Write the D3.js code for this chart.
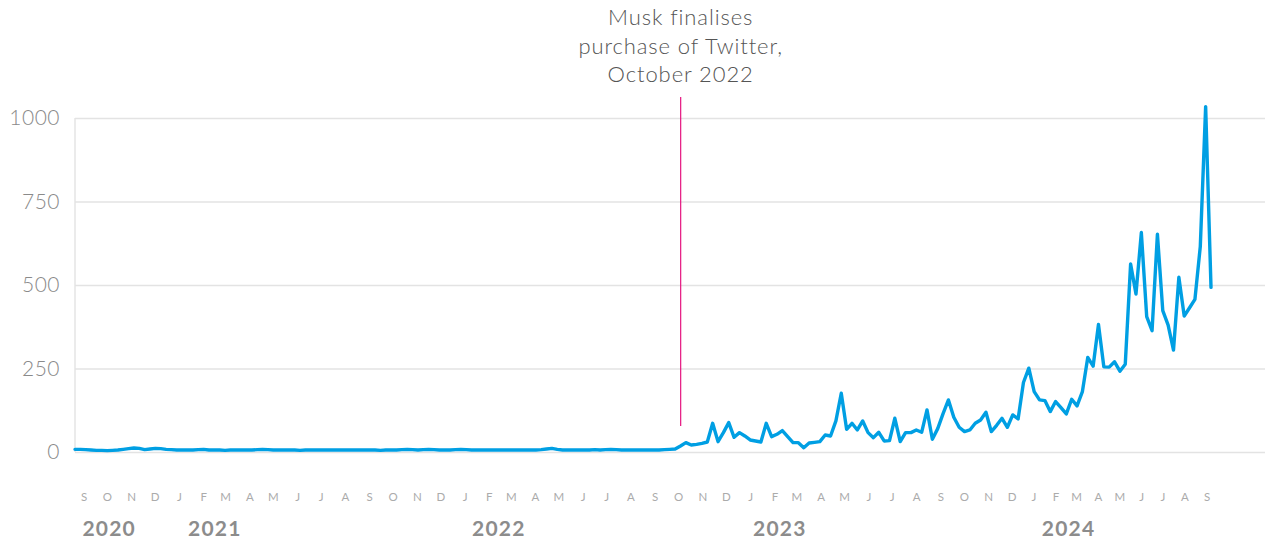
<!DOCTYPE html>
<html>
<head>
<meta charset="utf-8">
<script src="https://cdn.jsdelivr.net/npm/d3@7"></script>
<style>
  html, body { margin: 0; padding: 0; background: #fff; }
  #chart { width: 1272px; height: 546px; }
  text { font-family: Lato, "Open Sans", sans-serif; }
</style>
</head>
<body>
<div id="chart"></div>
<script>
// weekly counts, Sep 2020 -> Sep 2024
const weeklyValues = [
  8, 8, 7, 6, 5, 5, 4, 5, 6, 8,
  10, 12, 11, 7, 9, 11, 10, 8, 7, 6,
  6, 6, 6, 7, 8, 6, 6, 6, 5, 6,
  6, 6, 6, 6, 7, 8, 7, 6, 6, 6,
  6, 6, 5, 6, 6, 6, 6, 6, 6, 6,
  6, 6, 6, 6, 6, 6, 6, 5, 6, 6,
  6, 7, 8, 7, 6, 7, 8, 7, 6, 6,
  6, 7, 8, 7, 6, 6, 6, 6, 6, 6,
  6, 6, 6, 6, 6, 6, 6, 7, 9, 11,
  8, 6, 6, 6, 6, 6, 6, 7, 6, 7,
  8, 7, 6, 6, 6, 6, 6, 6, 6, 6,
  7, 8, 9, 18, 28, 21, 23, 26, 30, 86,
  31, 58, 88, 44, 58, 48, 36, 33, 30, 86,
  46, 53, 64, 46, 28, 28, 13, 27, 29, 31,
  51, 48, 93, 176, 68, 86, 66, 93, 58, 43,
  59, 33, 34, 101, 31, 58, 58, 66, 59, 126,
  38, 70, 115, 156, 104, 74, 61, 66, 86, 96,
  119, 61, 80, 101, 74, 111, 99, 208, 251, 181,
  156, 154, 121, 151, 133, 114, 158, 138, 181, 283,
  257, 382, 255, 254, 270, 242, 263, 563, 473, 657,
  405, 363, 652, 423, 380, 305, 523, 407, 432, 457,
  615, 1034, 493
];

const yTicks = [0, 250, 500, 750, 1000];

const monthLetters = ["J","F","M","A","M","J","J","A","S","O","N","D"];
const firstMonth = new Date(2020, 8, 15);
const lastMonth = new Date(2024, 8, 15);
const axisBreak = new Date(2023, 11, 15);

const yearLabels = ["2020", "2021", "2022", "2023", "2024"];
const yearLabelDates = ["2020-09-13", "2021-01-26", "2022-01-24", "2023-01-18", "2024-01-26"];

const annotationDate = new Date(2022, 9, 15);
const annotationLines = ["Musk finalises", "purchase of Twitter,", "October 2022"];

const width = 1272, height = 546;
const plot = { left: 75, right: 1265, top: 118, bottom: 452, dataEnd: 1211 };

const svg = d3.select("#chart").append("svg")
  .attr("width", width)
  .attr("height", height)
  .attr("viewBox", `0 0 ${width} ${height}`);

const xWeek = d3.scaleLinear()
  .domain([0, weeklyValues.length - 1])
  .range([plot.left, plot.dataEnd]);

const xMonth = d3.scaleTime()
  .domain([firstMonth, axisBreak, lastMonth])
  .range([84, 1012, 1207]);

const yScale = d3.scaleLinear()
  .domain([0, 1000])
  .range([plot.bottom, plot.top]);

// grid + y labels
const yAxis = d3.axisLeft(yScale)
  .tickValues(yTicks)
  .tickFormat(d3.format("d"))
  .tickSize(-(plot.right - plot.left))
  .tickPadding(15);

const yAxisG = svg.append("g")
  .attr("transform", `translate(${plot.left},0)`)
  .call(yAxis);

yAxisG.select(".domain").remove();
yAxisG.selectAll(".tick line")
  .attr("stroke", "#e3e3e3")
  .attr("stroke-width", 1.4);
yAxisG.selectAll(".tick text")
  .attr("fill", "#8a8a8a")
  .attr("font-size", 21)
  .attr("font-weight", 300)
  .attr("letter-spacing", 0.5);

svg.append("line")
  .attr("x1", plot.left).attr("x2", plot.left)
  .attr("y1", yScale(1000)).attr("y2", yScale(0))
  .attr("stroke", "#e3e3e3")
  .attr("stroke-width", 1.4);

// month letters
const months = d3.timeMonth.range(new Date(2020, 8, 1), new Date(2024, 9, 1))
  .map(d => new Date(d.getFullYear(), d.getMonth(), 15));

svg.append("g")
  .selectAll("text")
  .data(months)
  .join("text")
  .attr("x", d => xMonth(d))
  .attr("y", 501)
  .attr("text-anchor", "middle")
  .attr("fill", "#ababab")
  .attr("font-size", 11.5)
  .text(d => monthLetters[d.getMonth()]);

// years
svg.append("g")
  .selectAll("text")
  .data(yearLabels)
  .join("text")
  .attr("x", (d, i) => xMonth(d3.timeParse("%Y-%m-%d")(yearLabelDates[i])))
  .attr("y", 536)
  .attr("fill", "#8c8c8c")
  .attr("font-size", 21)
  .attr("font-weight", 700)
  .attr("letter-spacing", 1.2)
  .text(d => d);

// annotation
const ax = xMonth(annotationDate) + 2;
svg.append("line")
  .attr("x1", ax).attr("x2", ax)
  .attr("y1", 97).attr("y2", 426)
  .attr("stroke", "#e5147f")
  .attr("stroke-width", 1.2);

svg.append("text")
  .attr("x", ax)
  .attr("text-anchor", "middle")
  .attr("fill", "#555")
  .attr("font-size", 22)
  .attr("font-weight", 300)
  .attr("letter-spacing", 0.9)
  .selectAll("tspan")
  .data(annotationLines)
  .join("tspan")
  .attr("x", ax)
  .attr("y", (d, i) => 25 + i * 28.5)
  .text(d => d);

// line
const line = d3.line()
  .x((d, i) => xWeek(i))
  .y(d => yScale(d));

svg.append("path")
  .datum(weeklyValues)
  .attr("fill", "none")
  .attr("stroke", "#009fe3")
  .attr("stroke-width", 3.4)
  .attr("stroke-linejoin", "round")
  .attr("stroke-linecap", "round")
  .attr("d", line);
</script>
</body>
</html>
